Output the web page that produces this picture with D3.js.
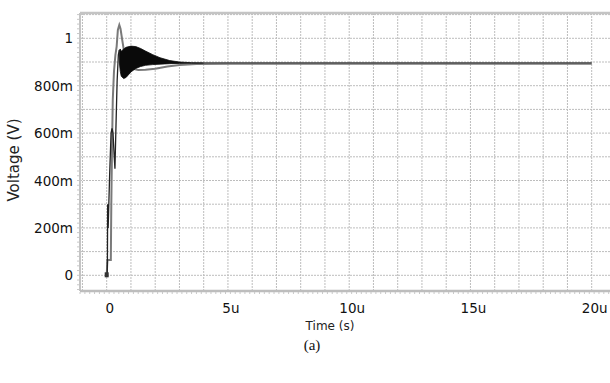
<!DOCTYPE html>
<html><head><meta charset="utf-8">
<script src="https://cdn.jsdelivr.net/npm/d3@7"></script>
<style>
html,body{margin:0;padding:0;background:#fff;}
svg{display:block;}
</style></head>
<body>
<svg id="c" width="610" height="383"></svg>
<script>
// ---- data (time in microseconds, voltage in volts) ----
const yTickValues = [0, 0.2, 0.4, 0.6, 0.8, 1];
const yTickLabels = ["0", "200m", "400m", "600m", "800m", "1"];
const xTickValues = [0, 5, 10, 15, 20];
const xTickLabels = ["0", "5u", "10u", "15u", "20u"];

// gray (overshooting) waveform
const grayT = [0, 0.03, 0.17, 0.19, 0.22, 0.25, 0.3, 0.36, 0.41, 0.46, 0.52, 0.57, 0.63, 0.7, 0.8, 0.92, 1.05, 1.3, 1.6, 2.0, 2.5, 3.0, 3.7, 5, 8, 12, 16, 20];
const grayV = [0, 0.065, 0.065, 0.3, 0.54, 0.74, 0.86, 0.93, 0.965, 1.035, 1.056, 1.04, 1.0, 0.955, 0.915, 0.885, 0.872, 0.866, 0.867, 0.872, 0.881, 0.887, 0.892, 0.893, 0.893, 0.893, 0.893, 0.893];

// black (ringing) waveform: start-up part and settled part
const blackT = [0, 0.02, 0.03, 0.04, 0.06, 0.12, 0.18, 0.22, 0.26, 0.31, 0.34, 0.38, 0.43, 0.48, 0.52];
const blackV = [0, 0.0, 0.065, 0.3, 0.2, 0.42, 0.6, 0.62, 0.6, 0.5, 0.45, 0.62, 0.82, 0.93, 0.95];
const tailT = [4.0, 6, 9, 12, 15, 18, 20];
const tailV = [0.896, 0.896, 0.896, 0.896, 0.896, 0.896, 0.896];

// envelope of the dense ringing band
const bandT  = [0.52, 0.56, 0.6, 0.7, 0.8, 1.0, 1.2, 1.4, 1.6, 1.9, 2.2, 2.6, 3.0, 3.5, 4.0];
const bandHi = [0.95, 0.955, 0.945, 0.955, 0.962, 0.967, 0.965, 0.957, 0.946, 0.931, 0.918, 0.906, 0.9, 0.897, 0.896];
const bandLo = [0.9, 0.86, 0.84, 0.83, 0.835, 0.858, 0.873, 0.881, 0.886, 0.889, 0.891, 0.893, 0.894, 0.895, 0.896];

// ---- layout ----
const svg = d3.select("#c");
const P = {left: 80, right: 610, top: 13, bottom: 291};
const x = d3.scaleLinear().domain([0, 20]).range([106.7, 591.7]);
const y = d3.scaleLinear().domain([0, 1]).range([275.3, 38.3]);
const font = "'DejaVu Sans', sans-serif";

// grid
const g = svg.append("g");
const xGrid = d3.range(-1, 22).filter(t => x(t) > P.left + 1 && x(t) < P.right);
g.selectAll("line.vx").data(xGrid).join("line")
  .attr("x1", d => x(d)).attr("x2", d => x(d))
  .attr("y1", P.top).attr("y2", P.bottom)
  .attr("stroke", "#bdbdbd").attr("stroke-width", 1).attr("stroke-dasharray", "2,1");
const yGrid = d3.range(0, 12).map(i => i / 10).filter(v => y(v) > P.top + 1 && y(v) < P.bottom);
g.selectAll("line.hy").data(yGrid).join("line")
  .attr("x1", P.left).attr("x2", P.right)
  .attr("y1", d => y(d)).attr("y2", d => y(d))
  .attr("stroke", "#bdbdbd").attr("stroke-width", 1).attr("stroke-dasharray", "2,1");

// frame
svg.append("line").attr("x1", P.left).attr("x2", P.right).attr("y1", P.top).attr("y2", P.top)
  .attr("stroke", "#c4c4c4").attr("stroke-width", 2.5);
svg.append("line").attr("x1", P.left).attr("x2", P.left).attr("y1", P.top).attr("y2", P.bottom)
  .attr("stroke", "#c4c4c4").attr("stroke-width", 2);
svg.append("line").attr("x1", P.left).attr("x2", P.right).attr("y1", P.bottom).attr("y2", P.bottom)
  .attr("stroke", "#bdbdbd").attr("stroke-width", 2.5);
// minor ticks
const xMinor = d3.range(-1.1, 21, 0.2).filter(t => x(t) > P.left && x(t) < P.right);
svg.selectAll("line.mx").data(xMinor).join("line")
  .attr("x1", d => x(d)).attr("x2", d => x(d)).attr("y1", P.bottom + 1).attr("y2", P.bottom + 3)
  .attr("stroke", "#c8c8c8").attr("stroke-width", 1);
const yMinor = d3.range(-0.06, 1.1, 0.02).filter(v => y(v) > P.top && y(v) < P.bottom);
svg.selectAll("line.my").data(yMinor).join("line")
  .attr("x1", P.left - 3).attr("x2", P.left - 1).attr("y1", d => y(d)).attr("y2", d => y(d))
  .attr("stroke", "#c8c8c8").attr("stroke-width", 1);

// tick labels
svg.selectAll("text.yt").data(yTickValues).join("text")
  .attr("x", 73).attr("y", d => y(d) + 5).attr("text-anchor", "end")
  .attr("font-family", font).attr("font-size", 13.5).attr("fill", "#111")
  .text((d, i) => yTickLabels[i]);
svg.selectAll("text.xt").data(xTickValues).join("text")
  .attr("x", d => x(d) + 3).attr("y", 313).attr("text-anchor", "middle")
  .attr("font-family", font).attr("font-size", 13.5).attr("fill", "#111")
  .text((d, i) => xTickLabels[i]);

// axis titles
svg.append("text").attr("x", 330).attr("y", 330).attr("text-anchor", "middle")
  .attr("font-family", font).attr("font-size", 12).attr("fill", "#222").text("Time (s)");
svg.append("text").attr("transform", "translate(19,160) rotate(-90)").attr("text-anchor", "middle")
  .attr("font-family", font).attr("font-size", 15).attr("fill", "#222").text("Voltage (V)");
svg.append("text").attr("x", 312).attr("y", 350).attr("text-anchor", "middle")
  .attr("font-family", "'Liberation Serif', 'DejaVu Serif', serif").attr("font-size", 15).attr("fill", "#111").text("(a)");

// series
const line = d3.line().x(d => x(d[0])).y(d => y(d[1]));
const plot = svg.append("g");
plot.append("path").datum(grayT.map((t, i) => [t, grayV[i]]))
  .attr("d", line).attr("fill", "none").attr("stroke", "#7a7a7a").attr("stroke-width", 2);
plot.append("path")
  .datum(bandT.map((t, i) => ({t, hi: bandHi[i], lo: bandLo[i]})))
  .attr("d", d3.area().x(d => x(d.t)).y0(d => y(d.lo)).y1(d => y(d.hi)))
  .attr("fill", "#0a0a0a").attr("stroke", "#0a0a0a").attr("stroke-width", 0.8);
plot.append("path").datum(blackT.map((t, i) => [t, blackV[i]]))
  .attr("d", line).attr("fill", "none").attr("stroke", "#222").attr("stroke-width", 1.3);
plot.append("path").datum(tailT.map((t, i) => [t, tailV[i]]))
  .attr("d", line).attr("fill", "none").attr("stroke", "#444").attr("stroke-width", 1.2);
plot.append("rect").attr("x", x(0) - 2).attr("y", y(0) - 3).attr("width", 4).attr("height", 5).attr("fill", "#333");
</script>
</body></html>
